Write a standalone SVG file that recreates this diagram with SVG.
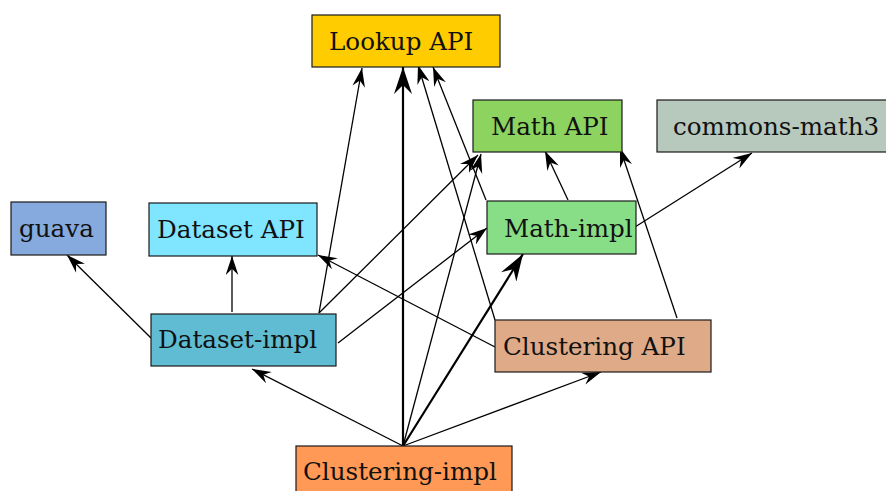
<svg xmlns="http://www.w3.org/2000/svg" width="886" height="491" viewBox="0 0 886 491">
<style>
.box{stroke:#1a1a1a;stroke-width:1.2}
.lbl{font-family:"DejaVu Serif",serif;font-size:24.6px;fill:#111}
.e{stroke:#000;stroke-width:1.3;fill:none;marker-end:url(#ah)}
.t{stroke:#000;stroke-width:2.2;fill:none;marker-end:url(#ahb)}
</style>
<defs>
<marker id="ah" viewBox="0 0 18 12" refX="18" refY="6" markerWidth="19" markerHeight="13" markerUnits="userSpaceOnUse" orient="auto">
<path d="M0,0 L18,6 L0,12 L6,6 z" fill="#000"/>
</marker>
<marker id="ahb" viewBox="0 0 18 12" refX="18" refY="6" markerWidth="30" markerHeight="18" markerUnits="userSpaceOnUse" orient="auto">
<path d="M0,0 L18,6 L0,12 L6,6 z" fill="#000"/>
</marker>
</defs>
<g id="connectors">
<line class="e" x1="151" y1="338" x2="67" y2="255"/>
<line class="e" x1="232" y1="312" x2="232" y2="256"/>
<line class="e" x1="319" y1="313" x2="362" y2="68"/>
<line class="e" x1="319" y1="313" x2="478" y2="155"/>
<line class="e" x1="338" y1="343" x2="487" y2="228"/>
<line class="e" x1="486" y1="200" x2="433" y2="67"/>
<line class="e" x1="568" y1="200" x2="545" y2="151"/>
<line class="e" x1="635" y1="227" x2="752" y2="153"/>
<line class="e" x1="495" y1="347" x2="318" y2="255"/>
<line class="e" x1="495" y1="320" x2="418" y2="65"/>
<line class="e" x1="677" y1="318" x2="620" y2="148"/>
<line class="e" x1="403" y1="446" x2="252" y2="369"/>
<line class="t" x1="403" y1="446" x2="403" y2="67"/>
<line class="e" x1="403" y1="446" x2="481" y2="154"/>
<line class="t" x1="403" y1="446" x2="523" y2="254"/>
<line class="e" x1="403" y1="446" x2="601" y2="372"/>
</g>
<g id="lookup-api"><rect class="box" x="312" y="15" width="188" height="52" fill="#ffcc00"/><text class="lbl" x="329" y="50">Lookup API</text></g>
<g id="math-api"><rect class="box" x="473" y="100" width="149" height="52" fill="#8dd35f"/><text class="lbl" x="491" y="135">Math API</text></g>
<g id="commons-math3"><rect class="box" x="657" y="100" width="235" height="52" fill="#b7c8bd"/><text class="lbl" x="673" y="135">commons-math3</text></g>
<g id="guava"><rect class="box" x="11" y="202" width="95" height="53" fill="#87aade"/><text class="lbl" x="19" y="237">guava</text></g>
<g id="dataset-api"><rect class="box" x="149" y="203" width="168" height="53" fill="#80e5ff"/><text class="lbl" x="157" y="238">Dataset API</text></g>
<g id="math-impl"><rect class="box" x="487" y="201" width="149" height="53" fill="#87de87"/><text class="lbl" x="504" y="237">Math-impl</text></g>
<g id="dataset-impl"><rect class="box" x="151" y="314" width="185" height="52" fill="#5fbcd3"/><text class="lbl" x="158" y="348">Dataset-impl</text></g>
<g id="clustering-api"><rect class="box" x="495" y="320" width="216" height="52" fill="#deaa87"/><text class="lbl" x="503" y="355">Clustering API</text></g>
<g id="clustering-impl"><rect class="box" x="296" y="446" width="216" height="60" fill="#ff9955"/><text class="lbl" x="303" y="480">Clustering-impl</text></g>
</svg>
